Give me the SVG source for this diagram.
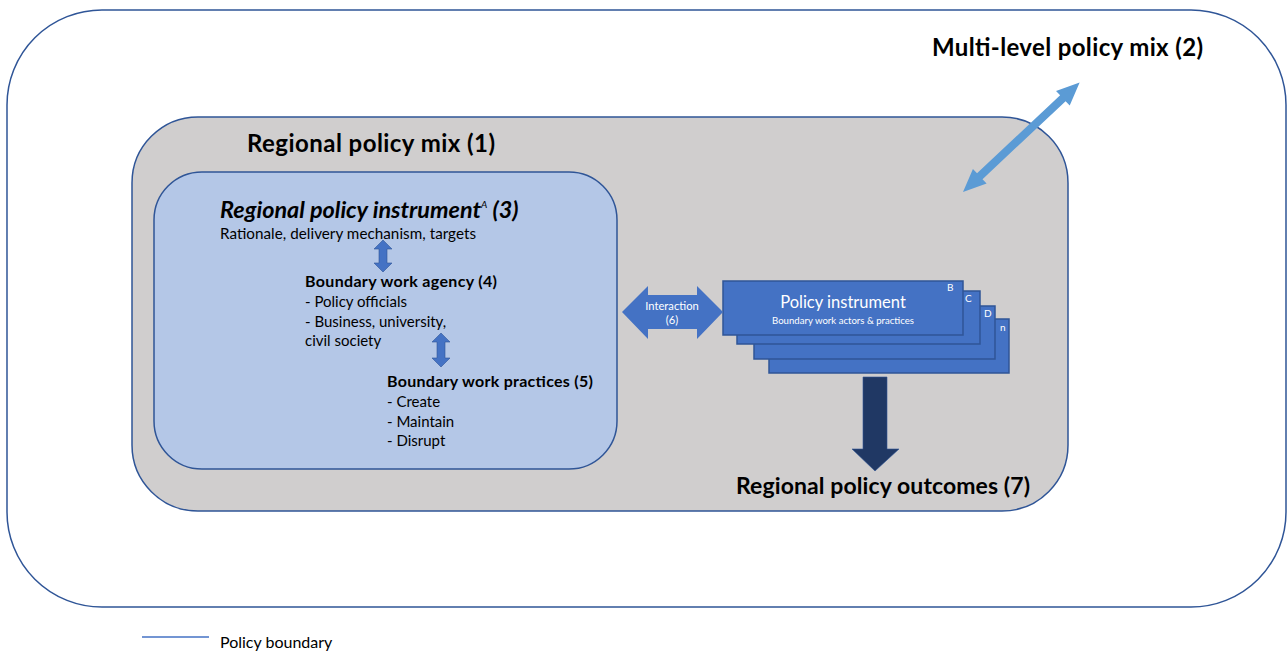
<svg xmlns="http://www.w3.org/2000/svg" width="1287" height="652" viewBox="0 0 1287 652">
  <style>
    .lbl { font-family: Lato, "Open Sans", "Liberation Sans", sans-serif; fill: #000; }
    .b { font-weight: bold; }
    .wt { font-family: Lato, "Open Sans", "Liberation Sans", sans-serif; fill: #fff; }
    .boundary { stroke: #2F5597; stroke-width: 1.5; }
    .inst { fill: #4472C4; stroke: #2F5597; stroke-width: 1.5; }
  </style>

  <rect width="1287" height="652" fill="#fff"/>

  <!-- Multi-level policy mix -->
  <g id="multi-level-mix">
    <rect class="boundary" x="7" y="10" width="1279" height="597" rx="95" ry="95" fill="#fff"/>
    <text class="lbl b" x="932" y="56" font-size="24" textLength="271">Multi-level policy mix (2)</text>
  </g>

  <!-- Regional policy mix -->
  <g id="regional-mix">
    <rect class="boundary" x="132" y="117" width="936" height="394" rx="66" ry="66" fill="#D0CECE"/>
    <text class="lbl b" x="247" y="152" font-size="24" textLength="248">Regional policy mix (1)</text>
  </g>

  <!-- Regional policy instrument -->
  <g id="regional-instrument">
    <rect class="boundary" x="154" y="172" width="463" height="297" rx="48" ry="48" fill="#B4C7E7"/>
    <text class="lbl b" x="220" y="218" font-size="23.4" font-style="italic">Regional policy instrument<tspan font-size="10" font-weight="normal" dy="-10">A</tspan><tspan dy="10"> (3)</tspan></text>
    <text class="lbl" x="220" y="239" font-size="15.2" textLength="256">Rationale, delivery mechanism, targets</text>
  </g>

  <g id="agency">
    <text class="lbl b" x="305" y="287" font-size="16" textLength="192">Boundary work agency (4)</text>
    <text class="lbl" x="305" y="307" font-size="15">- Policy officials</text>
    <text class="lbl" x="305" y="327" font-size="15">- Business, university,</text>
    <text class="lbl" x="305" y="346" font-size="15">civil society</text>
  </g>

  <g id="practices">
    <text class="lbl b" x="387" y="387" font-size="16" textLength="206">Boundary work practices (5)</text>
    <text class="lbl" x="387" y="407" font-size="15">- Create</text>
    <text class="lbl" x="387" y="427" font-size="15">- Maintain</text>
    <text class="lbl" x="387" y="446" font-size="15">- Disrupt</text>
  </g>

  <!-- Stack of other policy instruments -->
  <g id="policy-instruments">
    <rect class="inst" x="769" y="319" width="240" height="54"/>
    <rect class="inst" x="754" y="306" width="241" height="53"/>
    <rect class="inst" x="737" y="291" width="243" height="53"/>
    <rect class="inst" x="723" y="281" width="240" height="54"/>
    <text class="wt" x="1000" y="331" font-size="10">n</text>
    <text class="wt" x="984" y="317" font-size="10">D</text>
    <text class="wt" x="965" y="302" font-size="10">C</text>
    <text class="wt" x="947" y="291" font-size="10">B</text>
    <text class="wt" x="843" y="308" font-size="16.5" text-anchor="middle">Policy instrument</text>
    <text class="wt" x="843" y="324" font-size="9.6" text-anchor="middle">Boundary work actors &amp; practices</text>
  </g>

  <g id="outcomes">
    <text class="lbl b" x="736" y="494" font-size="23" textLength="294">Regional policy outcomes (7)</text>
  </g>

  <!-- Connectors -->
  <g id="connectors">
    <!-- instrument to agency -->
    <polygon fill="#4472C4" stroke="#2F5597" stroke-width="0.6"
      points="383,240 392,249 387,249 387,263 392,263 383,272 374,263 379,263 379,249 374,249"/>
    <!-- agency to practices -->
    <polygon fill="#4472C4" stroke="#2F5597" stroke-width="0.6"
      points="441,333 450,342 445,342 445,358 450,358 441,367 432,358 437,358 437,342 432,342"/>
    <!-- interaction -->
    <polygon fill="#4472C4"
      points="622,312 648,286 648,295 697,295 697,286 723,312 697,339 697,329 648,329 648,339"/>
    <text class="wt" x="672" y="310" font-size="11.2" text-anchor="middle">Interaction</text>
    <text class="wt" x="672" y="324" font-size="11.2" text-anchor="middle">(6)</text>
    <!-- to outcomes -->
    <polygon fill="#203864" stroke="#2F5597" stroke-width="0.6"
      points="863,377 887,377 887,449 899,449 875,471 852,449 863,449"/>
    <!-- regional to multi-level -->
    <polygon fill="#5B9BD5" transform="translate(963,192) rotate(-43.2)"
      points="0,0 23,-10 23,-4 137,-4 137,-10 160,0 137,10 137,4 23,4 23,10"/>
  </g>

  <!-- Legend -->
  <g id="legend">
    <line x1="142" y1="637" x2="209" y2="637" stroke="#4472C4" stroke-width="1.5"/>
    <text class="lbl" x="220" y="648" font-size="16">Policy boundary</text>
  </g>
</svg>
